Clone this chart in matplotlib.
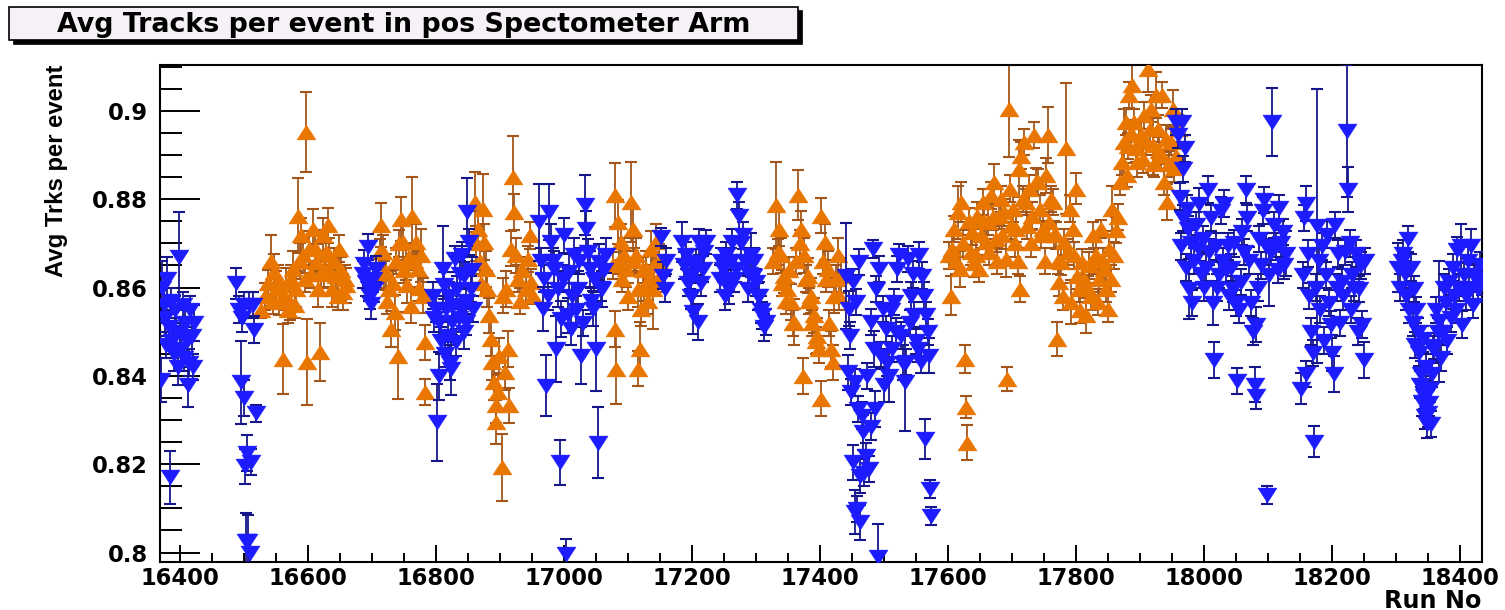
import numpy as np
import matplotlib
matplotlib.use("Agg")
import matplotlib.pyplot as plt
from matplotlib.patches import Rectangle
from matplotlib.ticker import MultipleLocator, FixedLocator, FuncFormatter

# ---------------- data: orange (up triangles) ----------------
o1_run = [16527, 16532, 16537, 16542, 16545, 16547, 16550, 16553, 16555, 16560,
          16563, 16566, 16569, 16571, 16574, 16576, 16579, 16581, 16584, 16587,
          16589, 16592, 16595, 16597, 16599, 16602, 16605, 16607, 16610, 16612,
          16615, 16618, 16620, 16623, 16625, 16628, 16631, 16633, 16636, 16638,
          16641, 16644, 16646, 16649, 16652, 16654, 16657, 16659]
o1_val = [0.855, 0.858, 0.861, 0.866, 0.857, 0.8635, 0.8597, 0.862, 0.8567, 0.8438,
          0.858, 0.8605, 0.855, 0.8567, 0.862, 0.8642, 0.856, 0.8597, 0.8763, 0.866,
          0.8718, 0.8673, 0.862, 0.8952, 0.8431, 0.8688, 0.863, 0.8733, 0.869, 0.8658,
          0.8597, 0.8454, 0.863, 0.8718, 0.8642, 0.868, 0.8741, 0.8673, 0.863, 0.8597,
          0.866, 0.8627, 0.858, 0.8688, 0.864, 0.859, 0.862, 0.8605]
o1_err = [0.002, 0.003, 0.003, 0.006, 0.003, 0.004, 0.004, 0.003, 0.003, 0.008,
          0.003, 0.004, 0.003, 0.004, 0.003, 0.004, 0.003, 0.004, 0.0085, 0.004,
          0.004, 0.004, 0.003, 0.009, 0.0098, 0.004, 0.003, 0.0045, 0.004, 0.004,
          0.004, 0.0066, 0.003, 0.004, 0.004, 0.003, 0.004, 0.004, 0.003, 0.004,
          0.003, 0.004, 0.003, 0.003, 0.003, 0.004, 0.003, 0.004]

o2_run = [16712, 16714, 16717, 16719, 16722, 16724, 16727, 16730, 16732, 16735,
          16737, 16740, 16742, 16745, 16748, 16750, 16753, 16755, 16758, 16761,
          16763, 16766, 16769, 16771, 16774, 16777, 16779, 16782, 16783]
o2_val = [0.868, 0.8741, 0.868, 0.863, 0.8635, 0.857, 0.8597, 0.8506, 0.861, 0.8544,
          0.866, 0.8446, 0.870, 0.8756, 0.8703, 0.864, 0.8658, 0.8605, 0.867, 0.8559,
          0.8763, 0.866, 0.8703, 0.8642, 0.860, 0.8673, 0.8582, 0.8476, 0.8363]
o2_err = [0.003, 0.005, 0.004, 0.003, 0.004, 0.003, 0.004, 0.004, 0.003, 0.004,
          0.003, 0.0098, 0.003, 0.005, 0.004, 0.003, 0.004, 0.004, 0.003, 0.004,
          0.0087, 0.003, 0.004, 0.004, 0.003, 0.006, 0.004, 0.004, 0.003]

o3_run = [16860, 16863, 16865, 16868, 16870, 16873, 16875, 16878, 16880, 16883,
          16886, 16888, 16891, 16893, 16894, 16896, 16899, 16903, 16905, 16907,
          16909, 16912, 16914, 16917, 16920, 16922, 16925, 16928, 16931, 16935,
          16940, 16943, 16946, 16948, 16951]
o3_val = [0.8794, 0.870, 0.8733, 0.866, 0.861, 0.8779, 0.8703, 0.8642, 0.8597, 0.8537,
          0.8484, 0.8431, 0.8385, 0.8333, 0.8295, 0.8363, 0.8446, 0.8193, 0.8582, 0.8408,
          0.8597, 0.8461, 0.8333, 0.8688, 0.8850, 0.8771, 0.8673, 0.862, 0.857, 0.864,
          0.8597, 0.8665, 0.8718, 0.8612, 0.8582]
o3_err = [0.0068, 0.004, 0.004, 0.003, 0.003, 0.0078, 0.004, 0.004, 0.004, 0.004,
          0.004, 0.004, 0.004, 0.004, 0.005, 0.004, 0.004, 0.0076, 0.004, 0.004,
          0.004, 0.004, 0.004, 0.004, 0.0094, 0.004, 0.004, 0.003, 0.003, 0.003,
          0.003, 0.003, 0.003, 0.003, 0.002]

o4_run = [17076, 17079, 17080, 17081, 17084, 17086, 17089, 17091, 17094, 17097,
          17100, 17105, 17107, 17110, 17112, 17115, 17116, 17118, 17120, 17123,
          17125, 17128, 17131, 17133, 17136, 17139, 17141, 17144, 17147, 17149]
o4_val = [0.865, 0.8809, 0.8506, 0.8416, 0.8748, 0.866, 0.8703, 0.862, 0.8673, 0.8642,
          0.858, 0.8794, 0.8733, 0.866, 0.8673, 0.8597, 0.8416, 0.8461, 0.8552, 0.864,
          0.860, 0.8642, 0.857, 0.862, 0.8688, 0.8597, 0.865, 0.8703, 0.862, 0.8658]
o4_err = [0.003, 0.0072, 0.004, 0.008, 0.005, 0.003, 0.004, 0.003, 0.004, 0.004,
          0.003, 0.009, 0.005, 0.003, 0.004, 0.004, 0.004, 0.006, 0.004, 0.003,
          0.003, 0.004, 0.003, 0.003, 0.004, 0.009, 0.003, 0.004, 0.003, 0.004]

o5_run = [17326, 17331, 17334, 17336, 17339, 17341, 17344, 17347, 17349, 17352,
          17355, 17357, 17360, 17363, 17365, 17368, 17370, 17373, 17375, 17378,
          17381, 17383, 17386, 17388, 17391, 17393, 17396, 17399, 17401, 17402,
          17404, 17407, 17409, 17412, 17414, 17417, 17420, 17422, 17425, 17428,
          17430, 17433]
o5_val = [0.866, 0.8786, 0.868, 0.8733, 0.8673, 0.861, 0.8627, 0.857, 0.8597, 0.864,
          0.8567, 0.852, 0.8522, 0.866, 0.8809, 0.870, 0.8733, 0.840, 0.8673, 0.862,
          0.8627, 0.857, 0.8582, 0.852, 0.8537, 0.848, 0.8491, 0.846, 0.8763, 0.8348,
          0.866, 0.8703, 0.862, 0.8642, 0.852, 0.8461, 0.8431, 0.8582, 0.862, 0.8673,
          0.858, 0.8627]
o5_err = [0.003, 0.0098, 0.003, 0.004, 0.004, 0.003, 0.004, 0.003, 0.004, 0.003,
          0.004, 0.003, 0.0053, 0.003, 0.0057, 0.003, 0.004, 0.004, 0.004, 0.003,
          0.004, 0.003, 0.004, 0.003, 0.004, 0.003, 0.004, 0.003, 0.004, 0.004,
          0.003, 0.004, 0.003, 0.004, 0.003, 0.004, 0.004, 0.004, 0.003, 0.004,
          0.003, 0.004]

o6_run = [17602, 17605, 17607, 17610, 17613, 17615, 17618, 17620, 17623, 17627,
          17628, 17629, 17633, 17636, 17638, 17641, 17644, 17646, 17649, 17651,
          17654, 17657, 17659, 17662, 17664, 17667, 17670, 17672, 17675, 17677,
          17680, 17683, 17685, 17688, 17691, 17692, 17696, 17697, 17699, 17701]
o6_val = [0.8673, 0.8582, 0.8688, 0.8733, 0.866, 0.8771, 0.8642, 0.8794, 0.870, 0.8438,
          0.8329, 0.8249, 0.875, 0.868, 0.8726, 0.8655, 0.8673, 0.8763, 0.8642, 0.872,
          0.8794, 0.875, 0.8703, 0.8748, 0.868, 0.8809, 0.876, 0.8839, 0.871, 0.866,
          0.8763, 0.880, 0.8718, 0.877, 0.8665, 0.8393, 0.9005, 0.8824, 0.874, 0.8779]
o6_err = [0.003, 0.0045, 0.003, 0.003, 0.003, 0.006, 0.004, 0.0045, 0.003, 0.0032,
          0.0025, 0.004, 0.003, 0.003, 0.003, 0.003, 0.003, 0.003, 0.003, 0.003,
          0.003, 0.003, 0.003, 0.003, 0.003, 0.003, 0.003, 0.004, 0.003, 0.003,
          0.003, 0.003, 0.003, 0.003, 0.004, 0.0028, 0.011, 0.003, 0.003, 0.003]

o7_run = [17704, 17706, 17709, 17711, 17713, 17714, 17717, 17719, 17722, 17724,
          17727, 17729, 17732, 17735, 17737, 17740, 17743, 17745, 17748, 17751,
          17753, 17756, 17758, 17761, 17764, 17766, 17769, 17770, 17772, 17774,
          17777, 17779, 17782, 17784, 17787, 17790, 17792, 17795, 17797, 17800]
o7_val = [0.870, 0.8733, 0.866, 0.8869, 0.8597, 0.8899, 0.880, 0.893, 0.8794, 0.874,
          0.8824, 0.870, 0.8763, 0.8945, 0.884, 0.8839, 0.8779, 0.872, 0.8733, 0.866,
          0.8854, 0.8945, 0.8748, 0.880, 0.8794, 0.872, 0.8718, 0.8484, 0.866, 0.8612,
          0.8658, 0.858, 0.8703, 0.8915, 0.868, 0.8779, 0.8567, 0.8733, 0.8673, 0.8824]
o7_err = [0.003, 0.003, 0.003, 0.0065, 0.003, 0.003, 0.003, 0.003, 0.003, 0.003,
          0.003, 0.003, 0.003, 0.003, 0.003, 0.003, 0.003, 0.003, 0.003, 0.003,
          0.004, 0.0064, 0.003, 0.003, 0.003, 0.003, 0.003, 0.0038, 0.003, 0.003,
          0.003, 0.003, 0.003, 0.0148, 0.003, 0.003, 0.005, 0.003, 0.003, 0.0035]

o8_run = [17802, 17805, 17807, 17810, 17813, 17816, 17818, 17821, 17823, 17826,
          17828, 17831, 17834, 17836, 17839, 17842, 17844, 17847, 17850, 17852,
          17855, 17857, 17860, 17863, 17866, 17869, 17872, 17875, 17878, 17879]
o8_val = [0.8627, 0.8597, 0.855, 0.8658, 0.862, 0.8537, 0.8597, 0.865, 0.858, 0.8718,
          0.866, 0.8673, 0.8567, 0.862, 0.8733, 0.866, 0.8642, 0.8597, 0.8552, 0.8688,
          0.862, 0.8779, 0.8673, 0.873, 0.876, 0.8840, 0.8885, 0.893, 0.8975, 0.8854]
o8_err = [0.003, 0.003, 0.003, 0.003, 0.003, 0.004, 0.003, 0.003, 0.003, 0.003,
          0.003, 0.003, 0.003, 0.003, 0.002, 0.003, 0.003, 0.003, 0.003, 0.003,
          0.003, 0.005, 0.003, 0.003, 0.003, 0.003, 0.003, 0.0075, 0.003, 0.0027]

o9_run = [17881, 17883, 17886, 17888, 17891, 17894, 17896, 17899, 17902, 17904,
          17907, 17909, 17912, 17915, 17917, 17920, 17922, 17925, 17928, 17930,
          17933, 17935, 17938, 17941, 17943, 17946, 17948, 17951, 17953, 17956,
          17959]
o9_val = [0.892, 0.9036, 0.895, 0.9058, 0.8975, 0.8915, 0.8884, 0.893, 0.8945, 0.889,
          0.899, 0.893, 0.9096, 0.896, 0.9005, 0.8922, 0.888, 0.9036, 0.896, 0.891,
          0.8899, 0.9036, 0.8839, 0.8937, 0.8794, 0.888, 0.893, 0.9005, 0.887, 0.8899,
          0.896]
o9_err = [0.003, 0.003, 0.003, 0.0053, 0.003, 0.003, 0.0034, 0.003, 0.003, 0.003,
          0.003, 0.003, 0.0053, 0.003, 0.003, 0.0068, 0.003, 0.0053, 0.003, 0.003,
          0.003, 0.003, 0.003, 0.003, 0.004, 0.003, 0.003, 0.0042, 0.003, 0.003,
          0.003]

# ---------------- data: blue (down triangles) ----------------
b1_run = [16370, 16372, 16374, 16376, 16378, 16380, 16382, 16384, 16386, 16388,
          16390, 16392, 16394, 16396, 16398, 16400, 16402, 16404, 16406, 16408,
          16410, 16412, 16414, 16416, 16418, 16420, 16422]
b1_val = [0.839, 0.860, 0.856, 0.853, 0.847, 0.862, 0.851, 0.817, 0.857, 0.848,
          0.845, 0.855, 0.850, 0.842, 0.867, 0.850, 0.846, 0.856, 0.844, 0.852,
          0.848, 0.838, 0.843, 0.855, 0.849, 0.842, 0.852]
b1_err = [0.005, 0.006, 0.004, 0.004, 0.003, 0.005, 0.004, 0.006, 0.003, 0.004,
          0.004, 0.003, 0.003, 0.004, 0.010, 0.003, 0.004, 0.003, 0.003, 0.003,
          0.003, 0.005, 0.003, 0.003, 0.004, 0.003, 0.004]

b2_run = [16488, 16492, 16495, 16497, 16499, 16500, 16502, 16503, 16505, 16506,
          16507, 16509, 16511, 16514, 16516, 16519]
b2_val = [0.861, 0.855, 0.8385, 0.853, 0.856, 0.835, 0.8195, 0.8025, 0.8225, 0.8025,
          0.856, 0.800, 0.8205, 0.856, 0.8505, 0.8315]
b2_err = [0.0035, 0.003, 0.0095, 0.003, 0.003, 0.004, 0.004, 0.0065, 0.004, 0.006,
          0.003, 0.004, 0.003, 0.003, 0.003, 0.002]

b3_run = [16686, 16688, 16690, 16693, 16695, 16696, 16698, 16701, 16703, 16706]
b3_val = [0.8630, 0.8654, 0.8612, 0.8692, 0.8600, 0.8582, 0.8563, 0.8620, 0.8597, 0.8642]
b3_err = [0.003, 0.003, 0.003, 0.003, 0.003, 0.003, 0.0035, 0.003, 0.003, 0.003]

b4_run = [16795, 16797, 16800, 16802, 16804, 16805, 16807, 16810, 16812, 16814,
          16816, 16818, 16820, 16822, 16823, 16825, 16827, 16829, 16831, 16833,
          16835, 16837, 16839, 16841, 16843, 16844, 16846, 16847, 16849, 16852,
          16854, 16856, 16857]
b4_val = [0.8582, 0.853, 0.8552, 0.8295, 0.8522, 0.840, 0.848, 0.8642, 0.8605, 0.845,
          0.8552, 0.8491, 0.8582, 0.843, 0.8416, 0.8522, 0.856, 0.8665, 0.8476, 0.8597,
          0.853, 0.863, 0.8552, 0.8673, 0.850, 0.8627, 0.857, 0.8522, 0.8771, 0.8703,
          0.8597, 0.864, 0.8552]
b4_err = [0.003, 0.003, 0.003, 0.0087, 0.003, 0.0055, 0.003, 0.0098, 0.003, 0.003,
          0.003, 0.003, 0.003, 0.004, 0.006, 0.003, 0.003, 0.003, 0.003, 0.003,
          0.003, 0.003, 0.003, 0.003, 0.004, 0.003, 0.003, 0.003, 0.0076, 0.003,
          0.003, 0.003, 0.003]

b5_run = [16961, 16964, 16967, 16969, 16972, 16975, 16977, 16980, 16982, 16985,
          16987, 16990, 16993, 16995, 16998, 17000, 17003, 17006, 17008, 17011,
          17013, 17016, 17019, 17021, 17024, 17027, 17029, 17032, 17034, 17037,
          17040, 17042, 17045, 17047, 17050, 17053, 17055, 17058, 17060, 17063,
          17066]
b5_val = [0.8748, 0.866, 0.8552, 0.862, 0.8378, 0.858, 0.8771, 0.8703, 0.866, 0.8642,
          0.8461, 0.8597, 0.8204, 0.8529, 0.862, 0.8718, 0.7996, 0.8537, 0.8635, 0.8506,
          0.858, 0.8673, 0.855, 0.8597, 0.866, 0.8446, 0.852, 0.8786, 0.8733, 0.868,
          0.8642, 0.857, 0.8552, 0.862, 0.8461, 0.8249, 0.8658, 0.860, 0.8597, 0.864,
          0.8673]
b5_err = [0.0087, 0.003, 0.005, 0.003, 0.007, 0.003, 0.0064, 0.004, 0.003, 0.004,
          0.0075, 0.004, 0.005, 0.004, 0.003, 0.004, 0.0035, 0.004, 0.004, 0.0035,
          0.003, 0.004, 0.003, 0.004, 0.003, 0.0065, 0.003, 0.0068, 0.004, 0.003,
          0.004, 0.003, 0.004, 0.003, 0.0095, 0.008, 0.004, 0.003, 0.004, 0.003,
          0.004]

b6_run = [17151, 17154, 17157, 17160, 17185, 17188, 17191, 17193, 17196, 17198,
          17201, 17204, 17206, 17209, 17211, 17214, 17217, 17219, 17222]
b6_val = [0.8714, 0.8627, 0.8597, 0.866, 0.8703, 0.8650, 0.8673, 0.861, 0.8627, 0.8582,
          0.8544, 0.864, 0.8658, 0.8522, 0.8703, 0.861, 0.8642, 0.868, 0.8703]
b6_err = [0.002, 0.003, 0.003, 0.003, 0.0045, 0.003, 0.003, 0.003, 0.003, 0.003,
          0.005, 0.003, 0.003, 0.004, 0.003, 0.003, 0.003, 0.003, 0.0028]

b7_run = [17243, 17246, 17248, 17251, 17253, 17256, 17258, 17261, 17263, 17266,
          17269, 17271, 17274, 17276, 17279, 17282, 17284, 17287, 17289, 17292,
          17295, 17297, 17300, 17303, 17305, 17308, 17310, 17313, 17316]
b7_val = [0.862, 0.8660, 0.8642, 0.858, 0.8673, 0.861, 0.8597, 0.866, 0.8703, 0.862,
          0.8642, 0.8809, 0.8763, 0.870, 0.8718, 0.866, 0.8658, 0.8597, 0.863, 0.8673,
          0.8627, 0.866, 0.8612, 0.858, 0.8582, 0.855, 0.8537, 0.851, 0.8522]
b7_err = [0.003, 0.003, 0.003, 0.003, 0.003, 0.003, 0.0035, 0.003, 0.003, 0.003,
          0.003, 0.003, 0.003, 0.003, 0.003, 0.003, 0.003, 0.003, 0.003, 0.005,
          0.003, 0.003, 0.003, 0.003, 0.003, 0.003, 0.003, 0.003, 0.003]

b8_run = [17440, 17443, 17446, 17447, 17449, 17451, 17452, 17454, 17455, 17456,
          17458, 17459, 17461, 17462, 17463, 17465, 17467, 17469, 17472, 17474,
          17477, 17479, 17480, 17482, 17484, 17486, 17487, 17490, 17492, 17495,
          17498, 17500, 17503, 17505, 17508, 17511, 17513, 17516, 17519, 17521]
b8_val = [0.8627, 0.8408, 0.8552, 0.8491, 0.8363, 0.8612, 0.8204, 0.8385, 0.8091, 0.8567,
          0.8098, 0.8325, 0.8658, 0.8174, 0.8068, 0.831, 0.8272, 0.8181, 0.8219, 0.840,
          0.8189, 0.8522, 0.8285, 0.8688, 0.8461, 0.8325, 0.8597, 0.7989, 0.8642, 0.8446,
          0.8552, 0.838, 0.8506, 0.843, 0.840, 0.855, 0.8461, 0.8567, 0.850, 0.8642]
b8_err = [0.012, 0.004, 0.004, 0.003, 0.003, 0.003, 0.004, 0.003, 0.005, 0.003,
          0.003, 0.003, 0.003, 0.004, 0.004, 0.003, 0.004, 0.003, 0.003, 0.003,
          0.003, 0.003, 0.003, 0.002, 0.004, 0.004, 0.003, 0.0075, 0.003, 0.003,
          0.003, 0.004, 0.003, 0.003, 0.006, 0.003, 0.003, 0.003, 0.003, 0.003]

b9_run = [17524, 17527, 17529, 17532, 17534, 17537, 17540, 17542, 17545, 17547,
          17550, 17553, 17555, 17558, 17560, 17563, 17564, 17566, 17568, 17571,
          17572, 17573]
b9_val = [0.8673, 0.8491, 0.843, 0.8385, 0.8431, 0.8665, 0.852, 0.8582, 0.863, 0.8537,
          0.848, 0.8461, 0.8673, 0.8431, 0.8627, 0.8582, 0.8257, 0.8537, 0.8499, 0.8446,
          0.8144, 0.8083]
b9_err = [0.0025, 0.003, 0.004, 0.011, 0.003, 0.003, 0.003, 0.003, 0.003, 0.003,
          0.003, 0.003, 0.003, 0.0025, 0.003, 0.003, 0.0045, 0.003, 0.003, 0.004,
          0.002, 0.002]

b10_run = [17957, 17960, 17962, 17964, 17966, 17967, 17968, 17970, 17972, 17973,
           17975, 17977, 17980, 17982, 17985, 17987, 17990, 17993, 17995, 17998,
           18000, 18003, 18006, 18008, 18011, 18014, 18016, 18019, 18021, 18024,
           18027, 18029, 18032, 18034, 18037, 18039, 18042, 18045, 18047, 18050]
b10_val = [0.8975, 0.8945, 0.8806, 0.8693, 0.8975, 0.8758, 0.8869, 0.8915, 0.8645, 0.8779,
           0.8733, 0.8597, 0.8700, 0.8565, 0.8660, 0.8742, 0.8690, 0.8790, 0.8630, 0.8710,
           0.8600, 0.8645, 0.8822, 0.8680, 0.8758, 0.8565, 0.8436, 0.8693, 0.8600, 0.8629,
           0.8774, 0.8660, 0.8790, 0.8640, 0.8693, 0.8580, 0.8645, 0.8597, 0.8700, 0.8565]
b10_err = [0.003, 0.003, 0.003, 0.003, 0.003, 0.003, 0.003, 0.003, 0.003, 0.003,
           0.003, 0.0068, 0.003, 0.003, 0.003, 0.003, 0.003, 0.0036, 0.003, 0.003,
           0.003, 0.003, 0.003, 0.003, 0.003, 0.005, 0.004, 0.003, 0.003, 0.003,
           0.003, 0.003, 0.003, 0.003, 0.003, 0.003, 0.003, 0.003, 0.003, 0.003]

b11_run = [18052, 18055, 18058, 18060, 18063, 18066, 18068, 18071, 18073, 18076,
           18079, 18081, 18082, 18084, 18086, 18089, 18092, 18094, 18097, 18099,
           18102, 18105, 18107, 18110, 18112, 18115, 18118, 18120, 18123, 18125,
           18128]
b11_val = [0.8388, 0.8550, 0.8613, 0.8726, 0.8680, 0.8822, 0.8758, 0.8661, 0.8565, 0.8500,
           0.8380, 0.8355, 0.8516, 0.8600, 0.8710, 0.8650, 0.8774, 0.8798, 0.8693, 0.8130,
           0.8629, 0.8680, 0.8975, 0.8742, 0.8693, 0.8640, 0.8780, 0.8700, 0.8726, 0.8650,
           0.8677]
b11_err = [0.003, 0.003, 0.003, 0.003, 0.003, 0.003, 0.003, 0.003, 0.003, 0.003,
           0.004, 0.003, 0.004, 0.003, 0.003, 0.003, 0.003, 0.003, 0.003, 0.002,
           0.007, 0.003, 0.0077, 0.003, 0.003, 0.003, 0.003, 0.003, 0.003, 0.003,
           0.005]

b12_run = [18151, 18154, 18156, 18159, 18160, 18162, 18164, 18167, 18170, 18172,
           18175, 18177, 18180, 18182, 18185, 18187, 18190, 18193, 18195, 18198,
           18200, 18203, 18205, 18208, 18210, 18213, 18215, 18218, 18220, 18223,
           18225, 18228, 18230, 18232, 18235, 18238, 18240, 18243, 18245, 18247,
           18250, 18252]
b12_val = [0.8371, 0.8629, 0.8758, 0.8790, 0.8404, 0.8677, 0.8581, 0.8500, 0.8452, 0.8251,
           0.8600, 0.8740, 0.8660, 0.8550, 0.8693, 0.8480, 0.8629, 0.8720, 0.8565, 0.8516,
           0.8452, 0.8404, 0.8742, 0.8600, 0.8677, 0.8520, 0.8613, 0.8580, 0.8680, 0.8955,
           0.8822, 0.8700, 0.8550, 0.8629, 0.8600, 0.8677, 0.8500, 0.8597, 0.8650, 0.8516,
           0.8436, 0.8660]
b12_err = [0.0035, 0.003, 0.003, 0.004, 0.003, 0.003, 0.003, 0.003, 0.003, 0.0035,
           0.003, 0.031, 0.003, 0.003, 0.003, 0.003, 0.003, 0.003, 0.003, 0.003,
           0.004, 0.004, 0.003, 0.003, 0.003, 0.003, 0.003, 0.003, 0.003, 0.015,
           0.005, 0.003, 0.003, 0.003, 0.003, 0.003, 0.003, 0.003, 0.003, 0.003,
           0.004, 0.003]

b13_run = [18303, 18306, 18309, 18311, 18314, 18316, 18319, 18321, 18324, 18326,
           18329, 18330, 18332, 18334, 18336, 18338, 18339, 18341, 18342, 18344,
           18346, 18347, 18349, 18350, 18352, 18354, 18355, 18357, 18358, 18360]
b13_val = [0.8645, 0.8600, 0.8660, 0.8677, 0.8630, 0.8580, 0.8710, 0.8550, 0.8645, 0.8520,
           0.8597, 0.8470, 0.8549, 0.8500, 0.8452, 0.8380, 0.8404, 0.8340, 0.8484, 0.8355,
           0.8310, 0.8420, 0.8290, 0.8315, 0.8339, 0.8370, 0.8291, 0.8404, 0.8460, 0.8468]
b13_err = [0.0055, 0.003, 0.003, 0.003, 0.003, 0.003, 0.003, 0.003, 0.003, 0.003,
           0.003, 0.003, 0.003, 0.003, 0.003, 0.003, 0.003, 0.003, 0.003, 0.003,
           0.003, 0.003, 0.003, 0.003, 0.003, 0.003, 0.003, 0.003, 0.003, 0.003]

b14_run = [18362, 18365, 18368, 18370, 18373, 18375, 18378, 18380, 18383, 18386,
           18389, 18391, 18394, 18396, 18399, 18402, 18404, 18407, 18409, 18412,
           18414, 18417, 18420, 18422, 18425, 18428, 18431, 18434]
b14_val = [0.8549, 0.8500, 0.8524, 0.8440, 0.8500, 0.8600, 0.8565, 0.8480, 0.8613, 0.8530,
           0.8645, 0.8581, 0.8550, 0.8685, 0.8600, 0.8693, 0.8516, 0.8629, 0.8580, 0.8661,
           0.8600, 0.8693, 0.8560, 0.8629, 0.8620, 0.8597, 0.8650, 0.8613]
b14_err = [0.003, 0.003, 0.0137, 0.003, 0.003, 0.003, 0.003, 0.003, 0.003, 0.003,
           0.003, 0.003, 0.003, 0.003, 0.003, 0.005, 0.003, 0.003, 0.003, 0.003,
           0.003, 0.004, 0.003, 0.003, 0.003, 0.003, 0.003, 0.003]

orange_segments = [(o1_run, o1_val, o1_err), (o2_run, o2_val, o2_err),
                   (o3_run, o3_val, o3_err), (o4_run, o4_val, o4_err),
                   (o5_run, o5_val, o5_err), (o6_run, o6_val, o6_err),
                   (o7_run, o7_val, o7_err), (o8_run, o8_val, o8_err),
                   (o9_run, o9_val, o9_err)]
blue_segments = [(b1_run, b1_val, b1_err), (b2_run, b2_val, b2_err),
                 (b3_run, b3_val, b3_err), (b4_run, b4_val, b4_err),
                 (b5_run, b5_val, b5_err), (b6_run, b6_val, b6_err),
                 (b7_run, b7_val, b7_err), (b8_run, b8_val, b8_err),
                 (b9_run, b9_val, b9_err), (b10_run, b10_val, b10_err),
                 (b11_run, b11_val, b11_err), (b12_run, b12_val, b12_err),
                 (b13_run, b13_val, b13_err), (b14_run, b14_val, b14_err)]

x_ticks = [16400, 16600, 16800, 17000, 17200, 17400, 17600, 17800, 18000, 18200, 18400]
y_ticks = [0.80, 0.82, 0.84, 0.86, 0.88, 0.90]

title_text = "Avg Tracks per event in pos Spectometer Arm"
x_title = "Run No"
y_title = "Avg Trks per event"

# ---------------- styling ----------------
W, H = 1505, 610
fig = plt.figure(figsize=(W / 100, H / 100), dpi=100)
fig.patch.set_facecolor("white")

ax_l, ax_r, ax_t, ax_b = 160, 1482, 65, 562
ax = fig.add_axes([ax_l / W, (H - ax_b) / H, (ax_r - ax_l) / W, (ax_b - ax_t) / H])

down_tri = [(-9, 7), (9, 7), (0, -7), (-9, 7)]
up_tri = [(-9, -7), (9, -7), (0, 7), (-9, -7)]

o_marker_c = "#e97600"
o_err_c = "#a4561a"
b_marker_c = "#1c1cff"
b_err_c = "#16168c"

for runs, vals, errs in orange_segments:
    ax.errorbar(runs, vals, yerr=errs, fmt="none", ecolor=o_err_c,
                elinewidth=1.3, capsize=4.4, capthick=1.5, zorder=2)
    ax.plot(runs, vals, linestyle="none", marker=up_tri, markersize=13.8,
            markerfacecolor=o_marker_c, markeredgecolor=o_marker_c,
            markeredgewidth=0.3, zorder=3)

for runs, vals, errs in blue_segments:
    ax.errorbar(runs, vals, yerr=errs, fmt="none", ecolor=b_err_c,
                elinewidth=1.3, capsize=4.4, capthick=1.5, zorder=4)
    ax.plot(runs, vals, linestyle="none", marker=down_tri, markersize=13.8,
            markerfacecolor=b_marker_c, markeredgecolor=b_marker_c,
            markeredgewidth=0.3, zorder=5)

ax.set_xlim(16368.5, 18434.5)
ax.set_ylim(0.79785, 0.9104)

ax.xaxis.set_major_locator(FixedLocator(x_ticks))
ax.xaxis.set_minor_locator(MultipleLocator(50))
ax.yaxis.set_major_locator(FixedLocator(y_ticks))
ax.yaxis.set_minor_locator(MultipleLocator(0.005))
ax.yaxis.set_major_formatter(FuncFormatter(lambda v, p: "%g" % round(v, 3)))
ax.xaxis.set_major_formatter(FuncFormatter(lambda v, p: "%d" % round(v)))

ax.tick_params(axis="x", which="major", direction="in", length=12, width=1.4,
               pad=3.6, labelsize=16.3, top=False, colors="black")
ax.tick_params(axis="x", which="minor", direction="in", length=6.5, width=1.4, top=False)
ax.tick_params(axis="y", which="major", direction="in", length=28.8, width=1.4,
               pad=8.6, labelsize=16.3, right=False)
ax.tick_params(axis="y", which="minor", direction="in", length=15.6, width=1.4, right=False)
for lab in ax.get_xticklabels() + ax.get_yticklabels():
    lab.set_fontweight("bold")
    lab.set_family("DejaVu Sans")

for s in ax.spines.values():
    s.set_linewidth(1.5)
    s.set_color("black")

# axis titles
fig.text(1481 / W, 2.5 / H, x_title, ha="right", va="baseline",
         fontsize=17.2, fontweight="bold", family="DejaVu Sans")
fig.text(56 / W, 1 - 65 / H, y_title, rotation=90, ha="center", va="top",
         fontsize=17.2, fontweight="bold", family="Liberation Sans")

# title box with shadow
bx0, bx1, by0, by1 = 9.3, 798, 6.7, 40
shadow = Rectangle(((bx0 + 4) / W, 1 - (by1 + 3.5) / H), (bx1 - bx0) / W, (by1 - by0) / H,
                   transform=fig.transFigure, facecolor="black", edgecolor="black",
                   linewidth=0.5, zorder=1)
box = Rectangle((bx0 / W, 1 - by1 / H), (bx1 - bx0) / W, (by1 - by0) / H,
                transform=fig.transFigure, facecolor="#f6f1f6", edgecolor="black",
                linewidth=1.2, zorder=2)
fig.add_artist(shadow)
fig.add_artist(box)
fig.text(403.5 / W, 1 - 31.7 / H, title_text, ha="center", va="baseline",
         fontsize=19.4, fontweight="bold", family="DejaVu Sans", zorder=3)

fig.savefig("out.png", dpi=100, facecolor="white")
